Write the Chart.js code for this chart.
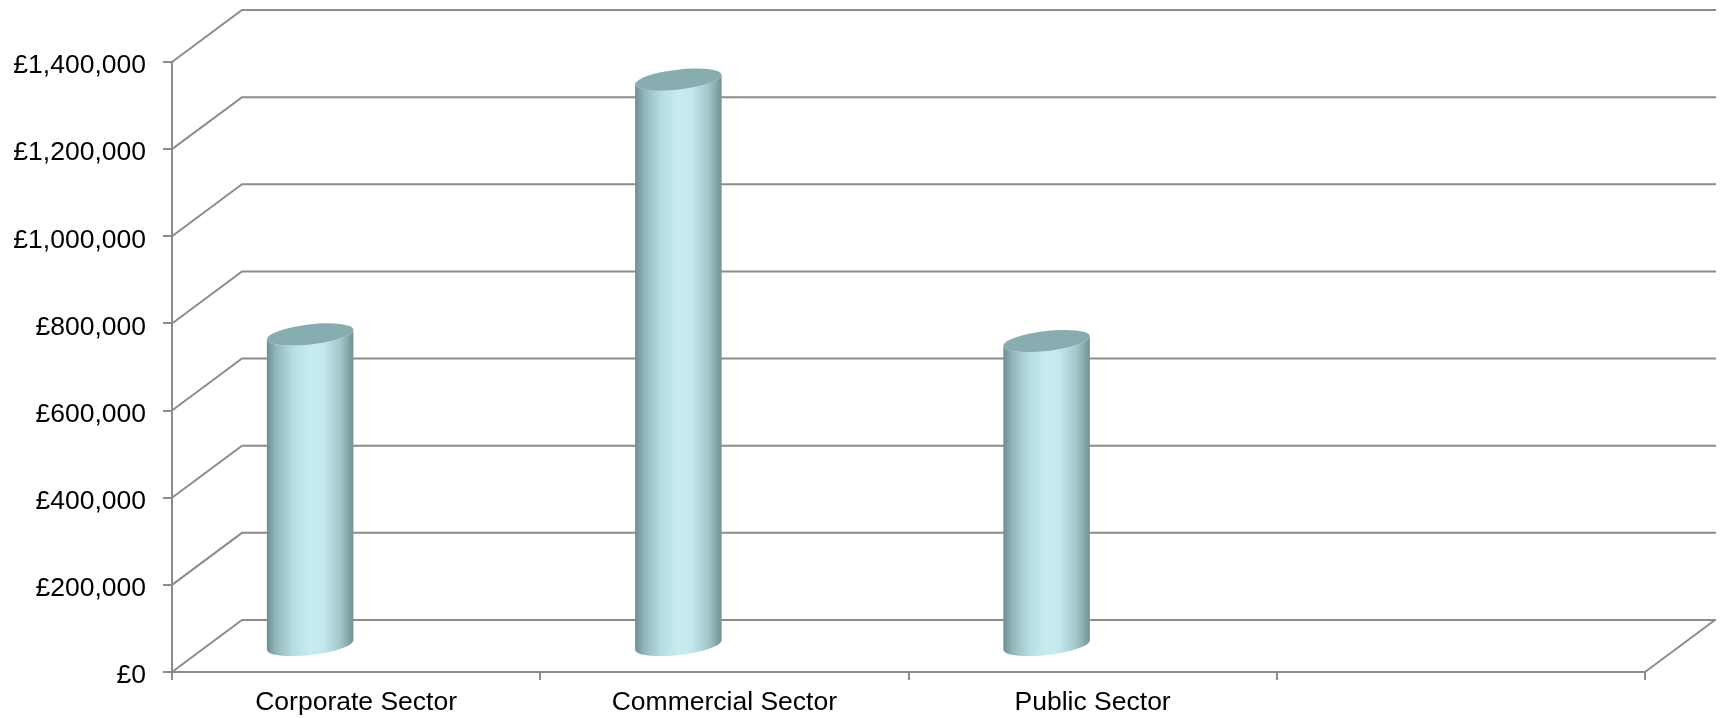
<!DOCTYPE html>
<html>
<head>
<meta charset="utf-8">
<script src="https://cdn.jsdelivr.net/npm/chart.js@4/dist/chart.umd.min.js"></script>
<style>
  html, body { margin: 0; padding: 0; background: #fff; }
  #wrap { width: 1721px; height: 718px; }
</style>
</head>
<body>
<div id="wrap"><canvas id="sectorChart" width="1721" height="718"></canvas></div>
<script>
// chart data
const categories = ['Corporate Sector', 'Commercial Sector', 'Public Sector', ''];
const sectorValues = [715000, 1300000, 700000, null];
const yMax = 1400000;
const yStep = 200000;

// 3d look
const gridColor = '#8c8c8c';
const depthX = 70;
const depthY = -52;
const cylShift = -46;

// back wall, side wall and floor drawn from the y scale ticks
const wallPlugin = {
    id: 'walls',
    beforeDatasetsDraw(chart) {
        const ctx = chart.ctx;
        const area = chart.chartArea;
        const y = chart.scales.y;
        ctx.save();
        ctx.strokeStyle = gridColor;
        ctx.lineWidth = 2;
        y.ticks.forEach(t => {
            const py = y.getPixelForValue(t.value);
            ctx.beginPath();
            ctx.moveTo(area.left, py);
            ctx.lineTo(area.left + depthX, py + depthY);
            ctx.lineTo(area.right + depthX + 1, py + depthY);
            ctx.stroke();
        });
        // right edge of the floor
        ctx.beginPath();
        ctx.moveTo(area.right, area.bottom);
        ctx.lineTo(area.right + depthX, area.bottom + depthY);
        ctx.stroke();
        ctx.restore();
    }
};

// draws each bar as a cylinder
const cylinderPlugin = {
    id: 'cylinders',
    afterDatasetsDraw(chart) {
        const ctx = chart.ctx;
        const meta = chart.getDatasetMeta(0);
        const rot = -0.115;
        meta.data.forEach((bar, i) => {
            if (sectorValues[i] == null) return;
            const p = bar.getProps(['x', 'y', 'base', 'width'], true);
            const cx = p.x + cylShift;
            const rx = p.width / 2;
            const ry = 10;
            const yt = p.y + depthY / 2;
            const yb = p.base + depthY / 2;

            const grad = ctx.createLinearGradient(cx - rx, 0, cx + rx, 0);
            grad.addColorStop(0, '#6a8d90');
            grad.addColorStop(0.1, '#8fb5b8');
            grad.addColorStop(0.3, '#b6dde1');
            grad.addColorStop(0.5, '#c6ecf0');
            grad.addColorStop(0.65, '#c2e8ec');
            grad.addColorStop(0.85, '#a1c6c9');
            grad.addColorStop(0.95, '#7fa2a5');
            grad.addColorStop(1, '#6f9194');

            ctx.save();
            ctx.beginPath();
            ctx.ellipse(cx, yb, rx, ry, rot, Math.PI, 0, true);
            ctx.ellipse(cx, yt, rx, ry, rot, 0, Math.PI, false);
            ctx.closePath();
            ctx.fillStyle = grad;
            ctx.fill();

            ctx.beginPath();
            ctx.ellipse(cx, yt, rx, ry, rot, 0, Math.PI * 2);
            ctx.fillStyle = '#88adb0';
            ctx.fill();
            ctx.restore();
        });
    }
};

const ctx = document.getElementById('sectorChart').getContext('2d');
const sectorChart = new Chart(ctx, {
    type: 'bar',
    data: {
        labels: categories,
        datasets: [{
            data: sectorValues,
            backgroundColor: 'rgba(0,0,0,0)',
            borderWidth: 0,
            barPercentage: 0.5,
            categoryPercentage: 0.473
        }]
    },
    options: {
        responsive: false,
        animation: false,
        layout: {
            padding: { top: 62, right: 76, bottom: 0, left: 0 }
        },
        plugins: {
            legend: { display: false },
            tooltip: { enabled: false }
        },
        scales: {
            y: {
                min: 0,
                max: yMax,
                afterFit: scale => { scale.width = 172; },
                ticks: {
                    stepSize: yStep,
                    padding: 17,
                    labelOffset: 4,
                    color: '#000',
                    font: { family: 'Liberation Sans, Arial, sans-serif', size: 26.5 },
                    callback: value => '£' + value.toLocaleString('en-GB')
                },
                grid: {
                    drawOnChartArea: false,
                    tickLength: 9,
                    color: gridColor,
                    lineWidth: 2
                },
                border: { color: gridColor, width: 2 }
            },
            x: {
                afterFit: scale => { scale.height = 46; },
                ticks: {
                    padding: 7,
                    color: '#000',
                    font: { family: 'Liberation Sans, Arial, sans-serif', size: 26.5 }
                },
                grid: {
                    offset: true,
                    drawOnChartArea: false,
                    tickLength: 8,
                    color: gridColor,
                    lineWidth: 2
                },
                border: { color: gridColor, width: 2 }
            }
        }
    },
    plugins: [wallPlugin, cylinderPlugin]
});
</script>
</body>
</html>
